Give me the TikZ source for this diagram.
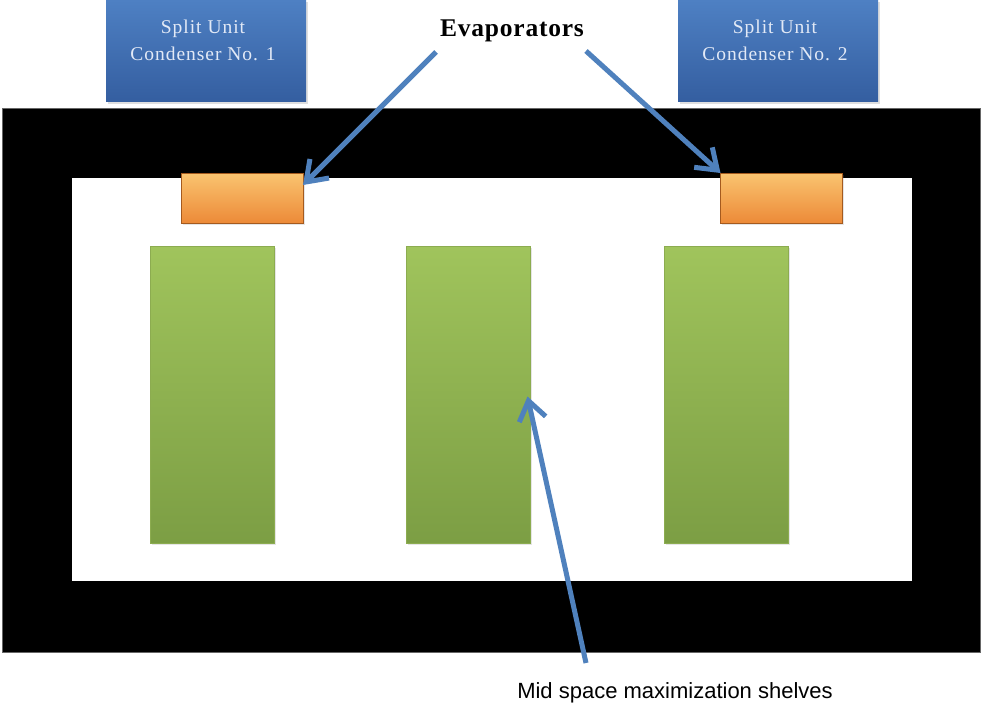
\documentclass[tikz,border=0pt]{standalone}
\usepackage{fontspec}
\setmainfont{Liberation Serif}
\newfontfamily\spaced[LetterSpace=5]{Liberation Serif}
\newfontfamily\headfont[LetterSpace=3]{Liberation Serif}
\newfontfamily\plainsans{Liberation Sans}
\usepackage{tikz}
\usetikzlibrary{arrows.meta,shadows}
\definecolor{wall}{RGB}{0, 0, 0}
\definecolor{condtop}{RGB}{78, 128, 195}
\definecolor{condbot}{RGB}{52, 94, 160}
\definecolor{condtxt}{RGB}{226, 233, 246}
\definecolor{evtop}{RGB}{250, 196, 112}
\definecolor{evmid}{RGB}{243, 150, 66}
\definecolor{evbot}{RGB}{236, 138, 56}
\definecolor{evedge}{RGB}{165, 90, 30}
\definecolor{shtop}{RGB}{160, 196, 92}
\definecolor{shbot}{RGB}{124, 158, 68}
\definecolor{shedge}{RGB}{140, 172, 80}
\definecolor{pointer}{RGB}{79, 129, 189}

\tikzset{
  condbox/.style={rectangle, inner sep=0, outer sep=0, minimum width=200pt, minimum height=102pt,
    top color=condtop, bottom color=condbot, drop shadow={opacity=0.25, shadow xshift=2pt, shadow yshift=-2pt}},
  condlabel/.style={text=condtxt, align=center, font=\spaced\fontsize{19.5}{27}\selectfont},
  evapbox/.style={rectangle, inner sep=0, outer sep=0, minimum width=122pt, minimum height=50pt,
    draw=evedge, line width=0.8pt, top color=evtop, middle color=evmid, bottom color=evbot,
    drop shadow={opacity=0.2, shadow xshift=1.5pt, shadow yshift=-1.5pt}},
  shelfbox/.style={rectangle, inner sep=0, outer sep=0, minimum width=124pt, minimum height=297pt,
    draw=shedge, line width=0.6pt, top color=shtop, bottom color=shbot,
    drop shadow={opacity=0.2, shadow xshift=1.5pt, shadow yshift=-1.5pt}},
  pointarrow/.style={draw=pointer, line width=5pt, -{Straight Barb[length=19pt, width=27pt]}}
}

\begin{document}
\begin{tikzpicture}[x=1pt, y=-1pt]
      \useasboundingbox (0, 0) rectangle (982, 706);
      \fill[white] (0, 0) rectangle (982, 706);
      \filldraw[fill=wall, draw=black!60, line width=0.5pt] (2, 108) rectangle (980, 652);
      \fill[white] (72, 178) rectangle (912, 581);
      \node[condbox](cond1) at (206, 51) {};
      \node[condbox](cond2) at (778, 51) {};
      \node[condlabel](cond1txt) at ([xshift=-3pt, yshift=11pt]cond1.center) {Split Unit\\Condenser No. 1};
      \node[condlabel](cond2txt) at ([xshift=-3pt, yshift=11pt]cond2.center) {Split Unit\\Condenser No. 2};
      \node[evapbox](evap1) at (242, 198) {};
      \node[evapbox](evap2) at (781.5, 198) {};
      \node[shelfbox](shelf1) at (212, 394.5) {};
      \node[shelfbox](shelf2) at (468.5, 394.5) {};
      \node[shelfbox](shelf3) at (726, 394.5) {};
      \node[anchor=base, font=\headfont\bfseries\fontsize{25.5}{30}\selectfont](evlabel) at (512, 37) {Evaporators};
      \node[anchor=base, font=\plainsans\fontsize{22}{26}\selectfont](shlabel) at (675, 698) {Mid space maximization shelves};
      \coordinate (tail1) at (436, 52);
      \coordinate (tail2) at (586, 51);
      \coordinate (tail3) at (586, 663);
      \draw[pointarrow] (tail1) -- ([yshift=-12pt]evap1.north east);
      \draw[pointarrow] (tail2) -- (evap2.north west);
      \draw[pointarrow] (tail3) -- ([xshift=-3pt, yshift=-2pt]shelf2.east);
    \end{tikzpicture}
\end{document}
